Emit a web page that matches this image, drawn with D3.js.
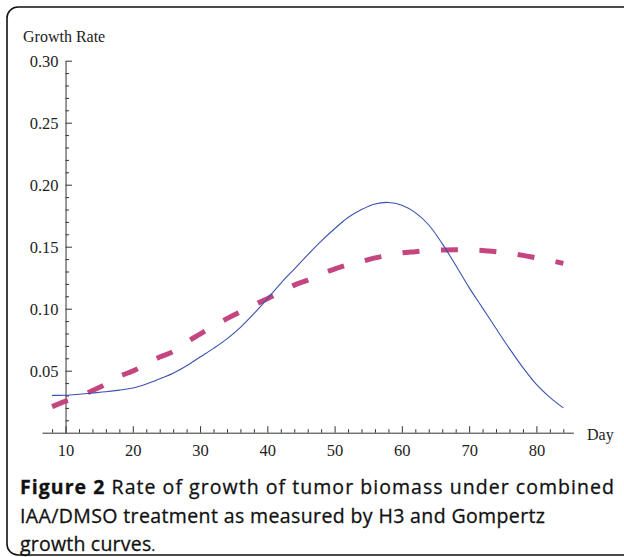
<!DOCTYPE html>
<html>
<head>
<meta charset="utf-8">
<script src="https://cdn.jsdelivr.net/npm/d3@7"></script>
<style>
  body { margin: 0; background: #fff; }
  svg { display: block; }
</style>
</head>
<body>
<svg id="chart" width="624" height="557"></svg>
<script>
var days = [8, 10, 12, 14, 16, 18, 20, 22, 24, 26, 28, 30, 32, 34, 36, 38, 40, 42, 44, 46,
            48, 50, 52, 54, 56, 58, 60, 62, 64, 66, 68, 70, 72, 74, 76, 78, 80, 82, 84];

// H3 growth rate (thin solid line)
var h3Rate = [0.0301, 0.0302, 0.031, 0.032, 0.033, 0.0343, 0.036, 0.0393, 0.0435, 0.048,
              0.054, 0.061, 0.068, 0.0757, 0.085, 0.096, 0.108, 0.1205, 0.132, 0.1435,
              0.1545, 0.1645, 0.1735, 0.180, 0.1845, 0.1857, 0.1835, 0.1775, 0.1675, 0.1525,
              0.135, 0.117, 0.1005, 0.084, 0.0678, 0.0525, 0.039, 0.0285, 0.020];

// Gompertz growth rate (thick dashed line)
var gompertzRate = [0.021, 0.0255, 0.029, 0.034, 0.039, 0.0455, 0.0497, 0.0555, 0.061, 0.0655,
                    0.073, 0.0795, 0.086, 0.092, 0.0975, 0.103, 0.108, 0.1135, 0.119, 0.123,
                    0.128, 0.132, 0.1355, 0.138, 0.141, 0.143, 0.145, 0.146, 0.147, 0.1473,
                    0.1475, 0.1474, 0.147, 0.146, 0.1447, 0.143, 0.141, 0.139, 0.1365];

var xMajor = [10, 20, 30, 40, 50, 60, 70, 80];
var yMajor = [0.05, 0.10, 0.15, 0.20, 0.25, 0.30];

var captionLines = [
    [{ t: "Figure 2", b: true }, { t: " Rate of growth of tumor biomass under combined", b: false }],
    [{ t: "IAA/DMSO treatment as measured by H3 and Gompertz", b: false }],
    [{ t: "growth curves", b: false }, { t: ".", b: false, small: true }]
];

var svg = d3.select("#chart"),
    tickFont = "'Liberation Serif', 'Times New Roman', serif",
    capFont = "'Open Sans', 'DejaVu Sans', sans-serif";

// frame (right edge runs off the picture)
svg.append("rect")
    .attr("x", 7).attr("y", 7)
    .attr("width", 640).attr("height", 548)
    .attr("rx", 11).attr("ry", 11)
    .attr("fill", "none")
    .attr("stroke", "#111")
    .attr("stroke-width", 1.6);

var x = d3.scaleLinear().domain([6.5, 85.5]).range([42, 573.4]),
    y = d3.scaleLinear().domain([0, 0.30]).range([432.7, 60.7]);

var xMinor = d3.range(8, 85, 2).filter(d => d % 10 != 0),
    yMinor = d3.range(1, 30).map(d => d / 100).filter(d => Math.round(d * 100) % 5 != 0);

// x axis
var gx = svg.append("g").attr("transform", "translate(0," + y(0) + ")");
gx.call(d3.axisBottom(x).tickValues(xMinor).tickSize(-3.5).tickSizeOuter(0).tickFormat(""));
gx.append("g")
    .call(d3.axisBottom(x).tickValues(xMajor).tickSize(-6.5).tickSizeOuter(0).tickPadding(12)
        .tickFormat(d3.format("d")))
    .select(".domain").remove();

// y axis
var gy = svg.append("g").attr("transform", "translate(" + x(10) + ",0)");
gy.call(d3.axisLeft(y).tickValues(yMinor).tickSize(-3.5).tickSizeOuter(0).tickFormat(""));
gy.append("g")
    .call(d3.axisLeft(y).tickValues(yMajor).tickSize(-6.5).tickSizeOuter(0).tickPadding(7)
        .tickFormat(d3.format(".2f")))
    .select(".domain").remove();

svg.selectAll(".tick line, .domain").attr("stroke", "#333").attr("stroke-width", 1);
svg.selectAll(".tick text")
    .attr("font-family", tickFont)
    .attr("font-size", 16.5)
    .attr("fill", "#222");
gy.selectAll(".tick text").attr("dy", "0.36em");

svg.append("text")
    .attr("x", 23).attr("y", 42)
    .attr("font-family", tickFont).attr("font-size", 16).attr("fill", "#222")
    .text("Growth Rate");

svg.append("text")
    .attr("x", 587).attr("y", 440)
    .attr("font-family", tickFont).attr("font-size", 16).attr("fill", "#222")
    .text("Day");

// curves
var line = d3.line()
    .x(d => x(d[0]))
    .y(d => y(d[1]))
    .curve(d3.curveCatmullRom.alpha(0.5));

svg.append("path")
    .datum(days.map((d, i) => [d, gompertzRate[i]]))
    .attr("d", line)
    .attr("fill", "none")
    .attr("stroke", "#c4457f")
    .attr("stroke-width", 5)
    .attr("stroke-dasharray", "17,21.5");

svg.append("path")
    .datum(days.map((d, i) => [d, h3Rate[i]]))
    .attr("d", line)
    .attr("fill", "none")
    .attr("stroke", "#3a52ad")
    .attr("stroke-width", 1.1);

// caption
var capBase = [494, 522.5, 551],
    capRight = [614, 545, 155],  // where each line ends in the original
    capSize = 19.5;

captionLines.forEach(function(parts, i) {
    var t = svg.append("text")
        .attr("x", 20).attr("y", capBase[i])
        .attr("font-family", capFont)
        .attr("font-size", capSize)
        .attr("fill", "#111")
        .attr("stroke", "#111")
        .attr("stroke-width", 0.3);
    parts.forEach(function(p) {
        t.append("tspan")
            .attr("font-weight", p.b ? "bold" : "normal")
            .attr("font-size", p.small ? capSize * 0.7 : capSize)
            .text(p.t);
    });
    var node = t.node(),
        n = node.textContent.length;
    t.attr("letter-spacing", (capRight[i] - 20 - node.getComputedTextLength()) / (n - 1));
});
</script>
</body>
</html>
